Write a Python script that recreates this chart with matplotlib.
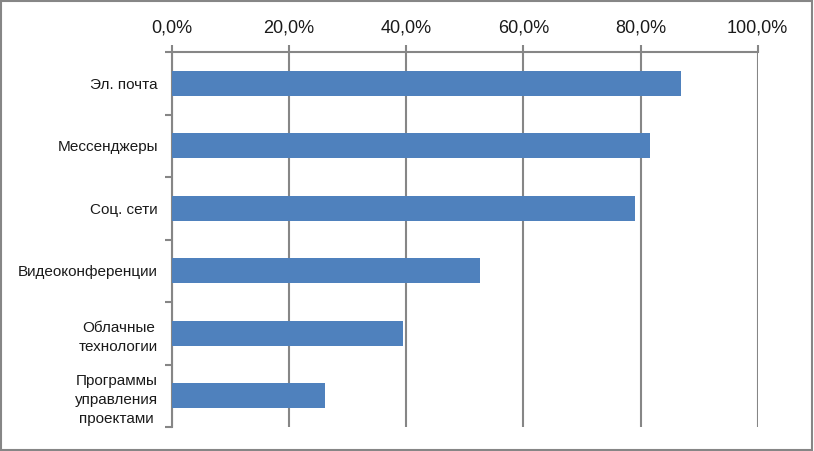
import matplotlib.pyplot as plt
import numpy as np
from matplotlib.patches import Rectangle
from matplotlib.ticker import FixedLocator, FuncFormatter

plt.rcParams['font.family'] = ['Liberation Sans', 'DejaVu Sans']

# data, top to bottom as in the picture
categories = ['Эл. почта', 'Мессенджеры', 'Соц. сети', 'Видеоконференции',
              'Облачные\nтехнологии', 'Программы\nуправления\nпроектами']
values = [86.9, 81.6, 79.0, 52.6, 39.4, 26.2]
xticks = [0, 20, 40, 60, 80, 100]

grey = '#868686'
blue = '#4F81BD'

fig = plt.figure(figsize=(8.14, 4.51), dpi=100)
ax = fig.add_axes([172 / 814, 1 - 427 / 451, (757.7 - 172) / 814, (427 - 52) / 451])

y = np.arange(len(categories))
ax.barh(y, values, height=0.4, color=blue, zorder=3)
ax.set_ylim(len(categories) - 0.5, -0.5)
ax.set_xlim(0, 100)

# x axis on top
ax.xaxis.tick_top()
ax.set_xticks(xticks)
ax.xaxis.set_major_formatter(FuncFormatter(lambda v, p: f'{v:.1f}%'.replace('.', ',')))
ax.tick_params(axis='x', which='major', direction='out', length=5, width=1.5,
               color=grey, labelsize=13, pad=6, labelcolor='#1a1a1a')
ax.grid(axis='x', color=grey, linewidth=1.5, zorder=0)

# category ticks at boundaries
ax.set_yticks(y)
ax.set_yticklabels(categories, multialignment='center', linespacing=1.45)
ax.yaxis.set_minor_locator(FixedLocator(np.arange(len(categories) + 1) - 0.5))
ax.tick_params(axis='y', which='major', length=0, labelsize=11, pad=10,
               labelcolor='#1a1a1a')
ax.tick_params(axis='y', which='minor', direction='out', length=5, width=1.5, color=grey)

for s in ['right', 'bottom']:
    ax.spines[s].set_visible(False)
for s in ['left', 'top']:
    ax.spines[s].set_color(grey)
    ax.spines[s].set_linewidth(1.5)

# outer frame
fig.patches.append(Rectangle((0.001, 0.002), 0.997, 0.995, transform=fig.transFigure,
                             fill=False, edgecolor=grey, linewidth=1.5))

fig.savefig('out.png', dpi=100)
